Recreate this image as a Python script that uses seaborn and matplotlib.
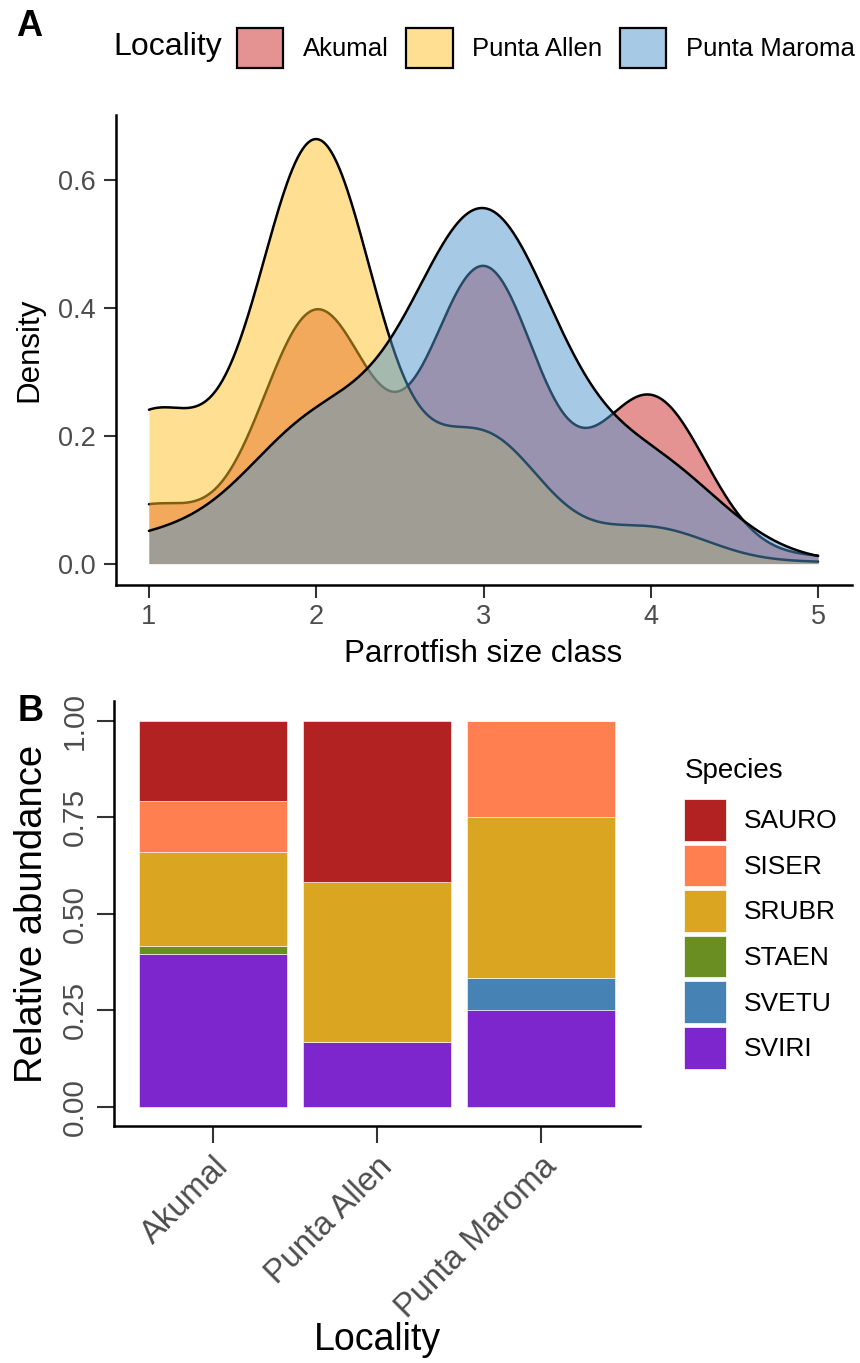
import numpy as np
import pandas as pd
import matplotlib
matplotlib.use("Agg")
import matplotlib.pyplot as plt
import seaborn as sns
from matplotlib.patches import Patch
from matplotlib.colors import to_rgba

# ---------------- Data ----------------
# Panel A: relative frequency of each parrotfish size class per locality
size_classes = [1, 2, 3, 4, 5]
akumal_size_w = [0.073, 0.322, 0.377, 0.213, 0.008]
allen_size_w = [0.209, 0.598, 0.179, 0.050, 0.002]
maroma_size_w = [0.041, 0.227, 0.585, 0.165, 0.002]
kde_bandwidth = [0.33, 0.35, 0.43]
localities = ["Akumal", "Punta Allen", "Punta Maroma"]
locality_colors = ["#CD2626", "#FFC125", "#4F94CD"]

# Panel B: counts of each species per locality
species = ["SAURO", "SISER", "SRUBR", "STAEN", "SVETU", "SVIRI"]
species_colors = ["#B22222", "#FF7F50", "#DAA520", "#6B8E23", "#4682B4", "#7D26CD"]
akumal_counts = [11, 7, 13, 1, 0, 21]
allen_counts = [5, 0, 5, 0, 0, 2]
maroma_counts = [0, 3, 5, 0, 1, 3]

# ---------------- Style ----------------
sns.set_style("ticks")
plt.rcParams["font.family"] = ["Liberation Sans", "DejaVu Sans"]
plt.rcParams["axes.linewidth"] = 1.8
plt.rcParams["axes.edgecolor"] = "black"
plt.rcParams["text.color"] = "black"
plt.rcParams["axes.labelcolor"] = "black"

W, H = 860, 1363
fig = plt.figure(figsize=(W / 100, H / 100), dpi=100)
TICK_GRAY = "#4D4D4D"

# ---------------- Panel A ----------------
axA = fig.add_axes([115.5 / W, 1 - 585 / H, 736 / W, 470 / H])
weights_list = [akumal_size_w, allen_size_w, maroma_size_w]
x_arr = np.array(size_classes, dtype=float)
for i, (loc, w, h, col) in enumerate(zip(localities, weights_list, kde_bandwidth, locality_colors)):
    w_arr = np.array(w, dtype=float)
    factor = h / np.sqrt(np.cov(x_arr, aweights=w_arr))
    sns.kdeplot(x=x_arr, weights=w_arr, bw_method=factor, cut=0, gridsize=500,
                fill=True, color=col, alpha=0.5, linewidth=0, zorder=1 + 2 * i, ax=axA)
    sns.kdeplot(x=x_arr, weights=w_arr, bw_method=factor, cut=0, gridsize=500,
                color="black", linewidth=1.8, zorder=2 + 2 * i, ax=axA)

axA.set_xlim(0.8, 5.2)
axA.set_ylim(-0.0335, 0.7015)
axA.set_xticks([1, 2, 3, 4, 5])
axA.set_yticks([0.0, 0.2, 0.4, 0.6])
axA.set_yticklabels(["0.0", "0.2", "0.4", "0.6"])
axA.tick_params(axis="both", length=9, width=1.5, color="#333333",
                labelsize=19.5, labelcolor=TICK_GRAY, pad=5)
axA.set_xlabel("Parrotfish size class", fontsize=22.5)
axA.set_ylabel("Density", fontsize=22.5)
axA.xaxis.set_label_coords(0.5, -0.147)
axA.xaxis.label.set_va("center")
axA.yaxis.set_label_coords(-0.1175, 0.5)
axA.yaxis.label.set_va("center")
sns.despine(ax=axA)

# Locality legend (top)
fig.text(113 / W, 1 - 47 / H, "Locality", fontsize=23, va="center", ha="left")
loc_handles = [Patch(facecolor=to_rgba(c, 0.5), edgecolor="black", linewidth=1.6)
               for c in locality_colors]
fig.legend(loc_handles, localities, loc="center left",
           bbox_to_anchor=(237 / W, 1 - 48 / H), ncol=3, frameon=False,
           borderpad=0, borderaxespad=0, handlelength=1.8, handleheight=2.05,
           handletextpad=0.75, columnspacing=0.7, fontsize=18.5)

# ---------------- Panel B ----------------
axB = fig.add_axes([114 / W, 1 - 1126 / H, 526 / W, 424.6 / H])
df = pd.DataFrame({
    "Locality": np.repeat(localities, len(species)),
    "Species": species * len(localities),
    "Count": akumal_counts + allen_counts + maroma_counts,
})
sns.histplot(data=df, x="Locality", hue="Species", weights="Count",
             multiple="fill", discrete=True, shrink=0.9, hue_order=species,
             palette=dict(zip(species, species_colors)), alpha=1,
             edgecolor="white", linewidth=0.4, legend=False, ax=axB)
axB.set_xlim(-0.6, 2.6)
axB.set_ylim(-0.05, 1.05)
axB.set_xticks([0, 1, 2])
axB.set_xticklabels(localities, rotation=45, ha="right", rotation_mode="anchor")
axB.set_yticks([0, 0.25, 0.5, 0.75, 1.0])
axB.set_yticklabels(["0.00", "0.25", "0.50", "0.75", "1.00"], rotation=90, va="center")
axB.tick_params(axis="both", length=12, width=1.5, color="#333333",
                labelcolor=TICK_GRAY, pad=6)
axB.tick_params(axis="x", labelsize=23.5)
axB.tick_params(axis="y", labelsize=21.5)
axB.set_xlabel("Locality", fontsize=27)
axB.set_ylabel("Relative abundance", fontsize=27.5)
axB.xaxis.set_label_coords(0.5, -0.504)
axB.xaxis.label.set_va("center")
axB.yaxis.set_label_coords(-0.155, 0.5)
axB.yaxis.label.set_va("center")
sns.despine(ax=axB)

# Species legend (right)
fig.text(685 / W, 1 - 771 / H, "Species", fontsize=20, va="center", ha="left")
sp_handles = [Patch(facecolor=c, edgecolor="white", linewidth=0.5) for c in species_colors]
fig.legend(sp_handles, species, loc="upper left", bbox_to_anchor=(684 / W, 1 - 799 / H),
           frameon=False, fontsize=19,
           borderpad=0, borderaxespad=0, handlelength=1.6, handleheight=2.05,
           handletextpad=0.65, labelspacing=0.15)

# Panel labels
fig.text(16 / W, 1 - 9 / H, "A", fontsize=26, fontweight="bold", va="top", ha="left")
fig.text(18 / W, 1 - 694 / H, "B", fontsize=26, fontweight="bold", va="top", ha="left")

fig.savefig("out.png", dpi=100)
